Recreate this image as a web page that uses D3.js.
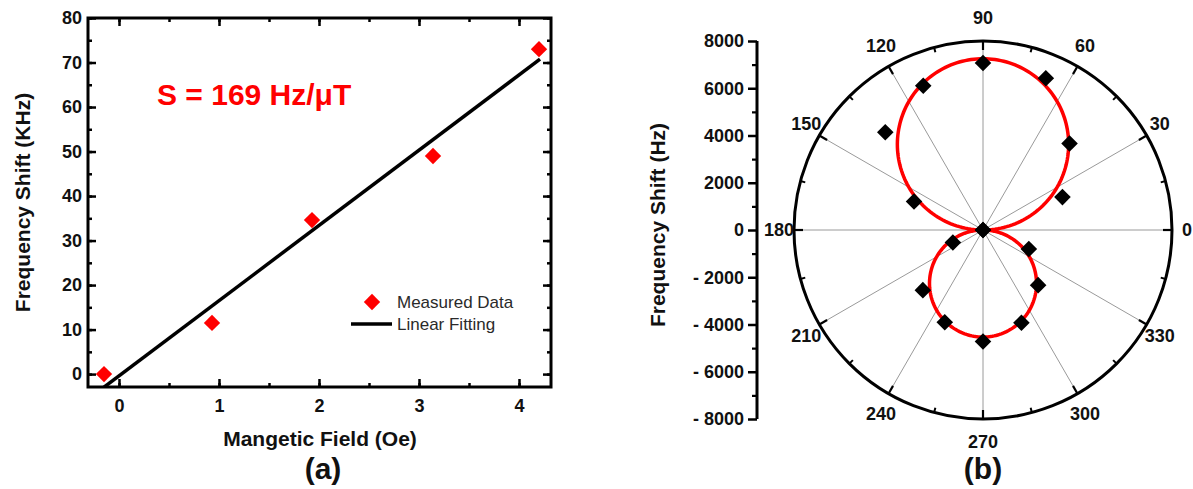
<!DOCTYPE html>
<html>
<head>
<meta charset="utf-8">
<script src="https://cdn.jsdelivr.net/npm/d3@7"></script>
<style>
  html, body { margin: 0; padding: 0; background: #fff; }
  svg { display: block; }
  text { font-family: "Liberation Sans", Arial, sans-serif; }
</style>
</head>
<body>
<svg id="chart" width="1193" height="489"></svg>
<script>
// ---------- Panel (a): frequency shift vs. magnetic field ----------
const fieldOe = [-0.15, 0.93, 1.93, 3.14, 4.2];
const shiftKHz = [0.0, 11.5, 34.6, 49.0, 73.0];
const fitSlope = 16.9;      // kHz per Oe  (169 Hz/uT)
const fitIntercept = -0.4;  // kHz
const xTicksA = [0, 1, 2, 3, 4];
const yTicksA = [0, 10, 20, 30, 40, 50, 60, 70, 80];

// ---------- Panel (b): angular dependence (polar) ----------
const anglesDeg = [0, 22.5, 45, 67.5, 90, 112.5, 135, 157.5, 180,
                   202.5, 225, 247.5, 270, 292.5, 315, 337.5];
const shiftHz = [0, 3640, 5180, 6950, 7070, 6610, 5850, 3160, 0,
                 1380, 3600, 4230, 4720, 4250, 3300, 2100];
const fitUpperHz = 7250;   // lobe amplitude for 0..180 deg
const fitLowerHz = 4530;   // lobe amplitude for 180..360 deg
const angleTicks = [0, 30, 60, 90, 120, 150, 180, 210, 240, 270, 300, 330];
const radialTicks = [-8000, -6000, -4000, -2000, 0, 2000, 4000, 6000, 8000];

const svg = d3.select("#chart");
const RED = "#ff0000";
const INK = "#111";
const diamond = d3.symbol().type(d3.symbolDiamond2);

// ===== Panel (a) =====
const frame = { left: 88, right: 551, top: 18, bottom: 387 };
const x = d3.scaleLinear().domain([-0.31, 4.32]).range([frame.left, frame.right]);
const y = d3.scaleLinear().domain([-2.9, 80]).range([frame.bottom, frame.top]);

const gA = svg.append("g");

// inward ticks on all four sides
function styleAxis(g) {
  g.select(".domain").remove();
  g.selectAll("line").attr("stroke", "#000").attr("stroke-width", 2.5);
  g.selectAll("text").attr("font-weight", "bold").attr("font-size", 18).attr("fill", INK);
}
const xMinor = d3.range(0, 4.3, 0.5);
const yMinor = d3.range(0, 81, 5);

gA.append("g").attr("transform", `translate(0,${frame.bottom})`)
  .call(d3.axisBottom(x).tickValues(xMinor).tickSize(-4).tickFormat(""))
  .call(styleAxis);
gA.append("g").attr("transform", `translate(0,${frame.bottom})`)
  .call(d3.axisBottom(x).tickValues(xTicksA).tickSize(-8).tickPadding(12).tickFormat(d3.format("d")))
  .call(styleAxis);
gA.append("g").attr("transform", `translate(0,${frame.top})`)
  .call(d3.axisTop(x).tickValues(xMinor).tickSize(-4).tickFormat(""))
  .call(styleAxis);
gA.append("g").attr("transform", `translate(0,${frame.top})`)
  .call(d3.axisTop(x).tickValues(xTicksA).tickSize(-8).tickFormat(""))
  .call(styleAxis);
gA.append("g").attr("transform", `translate(${frame.left},0)`)
  .call(d3.axisLeft(y).tickValues(yMinor).tickSize(-4).tickFormat(""))
  .call(styleAxis);
gA.append("g").attr("transform", `translate(${frame.left},0)`)
  .call(d3.axisLeft(y).tickValues(yTicksA).tickSize(-8).tickPadding(6).tickFormat(d3.format("d")))
  .call(styleAxis);
gA.append("g").attr("transform", `translate(${frame.right},0)`)
  .call(d3.axisRight(y).tickValues(yMinor).tickSize(-4).tickFormat(""))
  .call(styleAxis);
gA.append("g").attr("transform", `translate(${frame.right},0)`)
  .call(d3.axisRight(y).tickValues(yTicksA).tickSize(-8).tickFormat(""))
  .call(styleAxis);

// clip for the fit line
svg.append("clipPath").attr("id", "clipA").append("rect")
  .attr("x", frame.left).attr("y", frame.top)
  .attr("width", frame.right - frame.left).attr("height", frame.bottom - frame.top);

const fitX = [-0.16, 4.21];
gA.append("path")
  .datum(fitX.map(v => [v, fitSlope * v + fitIntercept]))
  .attr("clip-path", "url(#clipA)")
  .attr("d", d3.line().x(d => x(d[0])).y(d => y(d[1])))
  .attr("fill", "none").attr("stroke", "#000").attr("stroke-width", 3.5);

gA.selectAll("path.pt")
  .data(fieldOe.map((v, i) => [v, shiftKHz[i]]))
  .join("path").attr("class", "pt")
  .attr("transform", d => `translate(${x(d[0])},${y(d[1])})`)
  .attr("d", diamond.size(170)())
  .attr("fill", RED);

// frame
gA.append("rect")
  .attr("x", frame.left).attr("y", frame.top)
  .attr("width", frame.right - frame.left).attr("height", frame.bottom - frame.top)
  .attr("fill", "none").attr("stroke", "#000").attr("stroke-width", 3);

// sensitivity annotation
gA.append("text").attr("x", 157).attr("y", 105)
  .attr("font-size", 30).attr("font-weight", "bold").attr("fill", RED)
  .text("S = 169 Hz/\u03BCT");

// legend
const leg = gA.append("g");
leg.append("path").attr("transform", "translate(372,302)")
  .attr("d", diamond.size(170)()).attr("fill", RED);
leg.append("text").attr("x", 397).attr("y", 308)
  .attr("font-size", 17).attr("fill", "#2a2a2a").text("Measured Data");
leg.append("line").attr("x1", 351).attr("x2", 392).attr("y1", 324).attr("y2", 324)
  .attr("stroke", "#000").attr("stroke-width", 3.5);
leg.append("text").attr("x", 397).attr("y", 330)
  .attr("font-size", 17).attr("fill", "#2a2a2a").text("Linear Fitting");

// axis titles
gA.append("text").attr("transform", `translate(30,${(frame.top + frame.bottom) / 2}) rotate(-90)`)
  .attr("text-anchor", "middle").attr("font-size", 21).attr("font-weight", "bold").attr("fill", INK)
  .text("Frequency Shift (KHz)");
gA.append("text").attr("x", 320).attr("y", 446)
  .attr("text-anchor", "middle").attr("font-size", 21).attr("font-weight", "bold").attr("fill", INK)
  .text("Mangetic Field (Oe)");
gA.append("text").attr("x", 323).attr("y", 479)
  .attr("text-anchor", "middle").attr("font-size", 30).attr("font-weight", "bold")
  .attr("font-family", "'Open Sans', sans-serif").attr("fill", INK)
  .text("(a)");

// ===== Panel (b) =====
const cx = 983, cy = 230, R = 189;
const r = d3.scaleLinear().domain([0, 8000]).range([0, R]);
const yB = d3.scaleLinear().domain([-8000, 8000]).range([cy + R, cy - R]);
const rad = d => d * Math.PI / 180;
const px = (deg, v) => cx + r(v) * Math.cos(rad(deg));
const py = (deg, v) => cy - r(v) * Math.sin(rad(deg));

const gB = svg.append("g");

// spokes
gB.selectAll("line.spoke").data(angleTicks).join("line").attr("class", "spoke")
  .attr("x1", cx).attr("y1", cy)
  .attr("x2", d => px(d, 8000)).attr("y2", d => py(d, 8000))
  .attr("stroke", "#9a9a9a").attr("stroke-width", 1);

// outer circle
gB.append("circle").attr("cx", cx).attr("cy", cy).attr("r", R)
  .attr("fill", "none").attr("stroke", "#000").attr("stroke-width", 3);

// inward ticks on the circle
const minorAngles = d3.range(15, 360, 30);
gB.selectAll("line.minor").data(minorAngles).join("line").attr("class", "minor")
  .attr("x1", d => px(d, 8000)).attr("y1", d => py(d, 8000))
  .attr("x2", d => cx + (R - 5) * Math.cos(rad(d))).attr("y2", d => cy - (R - 5) * Math.sin(rad(d)))
  .attr("stroke", "#000").attr("stroke-width", 2);
gB.selectAll("line.major").data(angleTicks).join("line").attr("class", "major")
  .attr("x1", d => px(d, 8000)).attr("y1", d => py(d, 8000))
  .attr("x2", d => cx + (R - 9) * Math.cos(rad(d))).attr("y2", d => cy - (R - 9) * Math.sin(rad(d)))
  .attr("stroke", "#000").attr("stroke-width", 2.2);

// angle labels
gB.selectAll("text.ang").data(angleTicks).join("text").attr("class", "ang")
  .attr("x", d => cx + (R + 15) * Math.cos(rad(d)))
  .attr("y", d => cy - (R + 23) * Math.sin(rad(d)) + 6)
  .attr("text-anchor", "middle").attr("font-size", 18).attr("font-weight", "bold").attr("fill", INK)
  .text(d => d);

// fitted dipole pattern
const curveAngles = d3.range(0, 360.5, 1);
gB.append("path")
  .datum(curveAngles.map(a => {
    const s = Math.sin(rad(a));
    const v = s >= 0 ? fitUpperHz * s : -fitLowerHz * s;
    return [px(a, v), py(a, v)];
  }))
  .attr("d", d3.line())
  .attr("fill", "none").attr("stroke", RED).attr("stroke-width", 3.5);

// measured points
gB.selectAll("path.pt").data(anglesDeg.map((a, i) => [a, shiftHz[i]]))
  .join("path").attr("class", "pt")
  .attr("transform", d => `translate(${px(d[0], d[1])},${py(d[0], d[1])})`)
  .attr("d", diamond.size(175)())
  .attr("fill", "#000");

// radial value axis
const axisX = 757;
const fmtB = v => v < 0 ? "- " + Math.abs(v) : String(v);
gB.append("g").attr("transform", `translate(${axisX},0)`)
  .call(d3.axisLeft(yB).tickValues(d3.range(-7000, 8000, 2000)).tickSize(5).tickFormat(""))
  .call(g => { g.select(".domain").remove(); g.selectAll("line").attr("stroke", "#000").attr("stroke-width", 2.2); });
gB.append("g").attr("transform", `translate(${axisX},0)`)
  .call(d3.axisLeft(yB).tickValues(radialTicks).tickSize(9).tickPadding(4).tickFormat(fmtB))
  .call(g => {
    g.select(".domain").attr("stroke", "#000").attr("stroke-width", 3)
      .attr("d", `M0,${yB(-8000)}V${yB(8000)}`);
    g.selectAll("line").attr("stroke", "#000").attr("stroke-width", 2.5);
    g.selectAll("text").attr("font-weight", "bold").attr("font-size", 18).attr("fill", INK);
  });

gB.append("text").attr("transform", `translate(665,${cy - 5}) rotate(-90)`)
  .attr("text-anchor", "middle").attr("font-size", 21).attr("font-weight", "bold").attr("fill", INK)
  .text("Frequency Shift (Hz)");

gB.append("text").attr("x", cx).attr("y", 479)
  .attr("text-anchor", "middle").attr("font-size", 30).attr("font-weight", "bold")
  .attr("font-family", "'Open Sans', sans-serif").attr("fill", INK)
  .text("(b)");
</script>
</body>
</html>
